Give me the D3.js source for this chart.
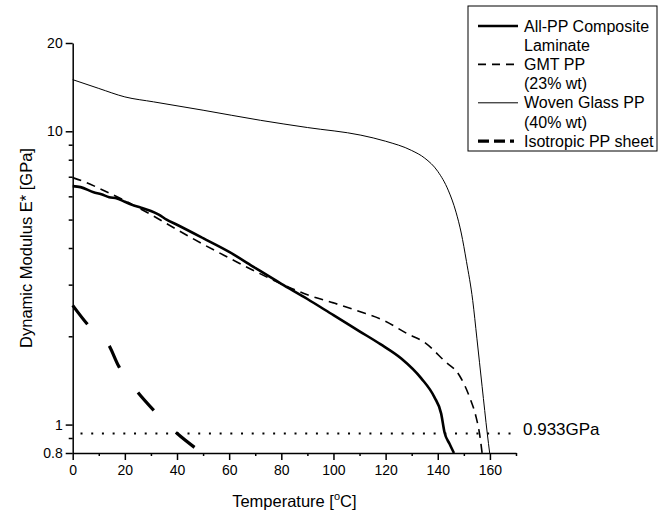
<!DOCTYPE html>
<html>
<head>
<meta charset="utf-8">
<script src="https://cdn.jsdelivr.net/npm/d3@7"></script>
<style>
body { margin: 0; background: #fff; }
svg { font-family: "Liberation Sans", Arial, Helvetica, sans-serif; }
</style>
</head>
<body>
<div class="chart"></div>
<script>
// data: [temperature degC, modulus GPa]
const allPP = [[0,6.5],[3,6.45],[8,6.2],[11,6.1],[14,5.96],[17,5.9],[20,5.75],[23,5.6],[26,5.5],[30,5.35],[33,5.2],[36,5.0],[40,4.8],[50,4.32],[60,3.88],[70,3.42],[80,3.02],[90,2.68],[100,2.36],[110,2.08],[118,1.88],[126,1.68],[133.6,1.44],[138.7,1.24],[141.3,1.09],[142.6,0.94],[144.5,0.86],[146.2,0.8]];
const gmtPP = [[0,6.95],[5,6.7],[10,6.4],[20,5.8],[30,5.2],[40,4.62],[50,4.12],[60,3.7],[70,3.33],[80,3.02],[90,2.77],[100,2.6],[110,2.43],[119.5,2.26],[128.4,2.04],[134.8,1.91],[142.5,1.65],[148.3,1.47],[152.2,1.24],[154.7,1.06],[156,0.933],[157,0.8]];
const wovenPP = [[0,15.0],[10,14.0],[20,13.1],[31,12.6],[50,11.8],[72,10.9],[90,10.3],[110.5,9.7],[120,9.25],[130,8.6],[135,8.1],[140,7.3],[144,6.3],[147,5.3],[149,4.5],[151,3.6],[153.4,2.65],[155,1.97],[157,1.35],[159,0.93],[159.9,0.8]];
const isoPP = [[0,2.55],[5.8,2.19],[14.1,1.85],[17.5,1.59],[24.6,1.30],[31,1.12],[40.2,0.93],[48,0.82]];
const refLine = [[3,0.933],[169,0.933]];

const xMajor = [0,20,40,60,80,100,120,140,160];
const xMinor = [10,30,50,70,90,110,130,150,170];
const yMajor = [0.8,1,10,20];
const yMinor = [0.9,2,3,4,5,6,7,8,9];

const series = [
  {name:["All-PP Composite","Laminate"], data:allPP, width:2.6, dash:null, key:null},
  {name:["GMT PP","(23% wt)"], data:gmtPP, width:1.6, dash:"9,6", key:"8,6"},
  {name:["Woven Glass PP","(40% wt)"], data:wovenPP, width:1, dash:null, key:null},
  {name:["Isotropic PP sheet"], data:isoPP, width:3.2, dash:"24,31", key:"11,5,11,5,4,4"}
];

const outWidth = 665, outHeight = 514;

const svg = d3.select('.chart').append('svg')
    .attr("width", outWidth)
    .attr("height", outHeight);

const x = d3.scaleLinear().domain([0,170]).range([72.7,516]);
const y = d3.scaleLog().domain([0.8,20]).range([453,43]);

// axes
svg.append("g")
    .attr("transform", `translate(${x(0)},0)`)
    .call(d3.axisLeft(y).tickValues(yMajor).tickFormat(d=>d).tickSize(7).tickSizeOuter(0).tickPadding(3));
svg.append("g")
    .attr("transform", `translate(${x(0)},0)`)
    .call(d3.axisLeft(y).tickValues(yMinor).tickFormat("").tickSize(4).tickSizeOuter(0))
    .select(".domain").remove();

svg.append("g")
    .attr("transform", `translate(0,${y(0.8)})`)
    .call(d3.axisBottom(x).tickValues(xMajor).tickSize(7).tickSizeOuter(0).tickPadding(5));
svg.append("g")
    .attr("transform", `translate(0,${y(0.8)})`)
    .call(d3.axisBottom(x).tickValues(xMinor).tickFormat("").tickSize(3).tickSizeOuter(0))
    .select(".domain").remove();

svg.selectAll(".tick text").attr("font-size", 14).attr("font-family", "Liberation Sans, Arial, sans-serif").attr("fill","#000");
svg.selectAll(".domain, .tick line").attr("stroke","#000").attr("stroke-width",1.5);

// axis titles
svg.append("text")
    .attr("transform", `translate(26,${(y(0.8)+y(20))/2}) rotate(-90)`)
    .attr("text-anchor","middle")
    .attr("dominant-baseline","central")
    .attr("font-size",16.5)
    .text("Dynamic Modulus E* [GPa]");

const xt = svg.append("text")
    .attr("x", (x(0)+x(170))/2)
    .attr("y", 507)
    .attr("text-anchor","middle")
    .attr("font-size",16.5);
xt.append("tspan").text("Temperature [");
xt.append("tspan").attr("font-size",11).attr("dy",-7).text("o");
xt.append("tspan").attr("dy",7).text("C]");

// reference line
const line = d3.line().x(d=>x(d[0])).y(d=>y(d[1]));
svg.append("path")
    .attr("d", line(refLine))
    .attr("fill","none")
    .attr("stroke","#000")
    .attr("stroke-width",2)
    .attr("stroke-dasharray","2,8.7");
svg.append("text")
    .attr("x",523)
    .attr("y",y(0.933) - 4)
    .attr("dominant-baseline","central")
    .attr("font-size",17)
    .text("0.933GPa");

// curves
const curve = d3.line().x(d=>x(d[0])).y(d=>y(d[1])).curve(d3.curveMonotoneX);
svg.selectAll("path.series")
    .data(series)
    .join("path")
    .attr("class","series")
    .attr("d", d=>curve(d.data))
    .attr("fill","none")
    .attr("stroke","#000")
    .attr("stroke-width", d=>d.width)
    .attr("stroke-dasharray", d=>d.dash);

// legend
const lg = svg.append("g");
lg.append("rect")
    .attr("x",468).attr("y",6)
    .attr("width",189).attr("height",145)
    .attr("fill","#fff").attr("stroke","#000").attr("stroke-width",1);
let row = 0;
series.forEach(s => {
  const cy = 26 + row*19.2;
  lg.append("line")
      .attr("x1",478).attr("x2",518)
      .attr("y1",cy).attr("y2",cy)
      .attr("stroke","#000")
      .attr("stroke-width",s.width)
      .attr("stroke-dasharray", s.key);
  s.name.forEach(n => {
    lg.append("text")
        .attr("x",524)
        .attr("y",26 + row*19.2)
        .attr("dominant-baseline","central")
        .attr("font-size",16)
        .text(n);
    row++;
  });
});
</script>
</body>
</html>
